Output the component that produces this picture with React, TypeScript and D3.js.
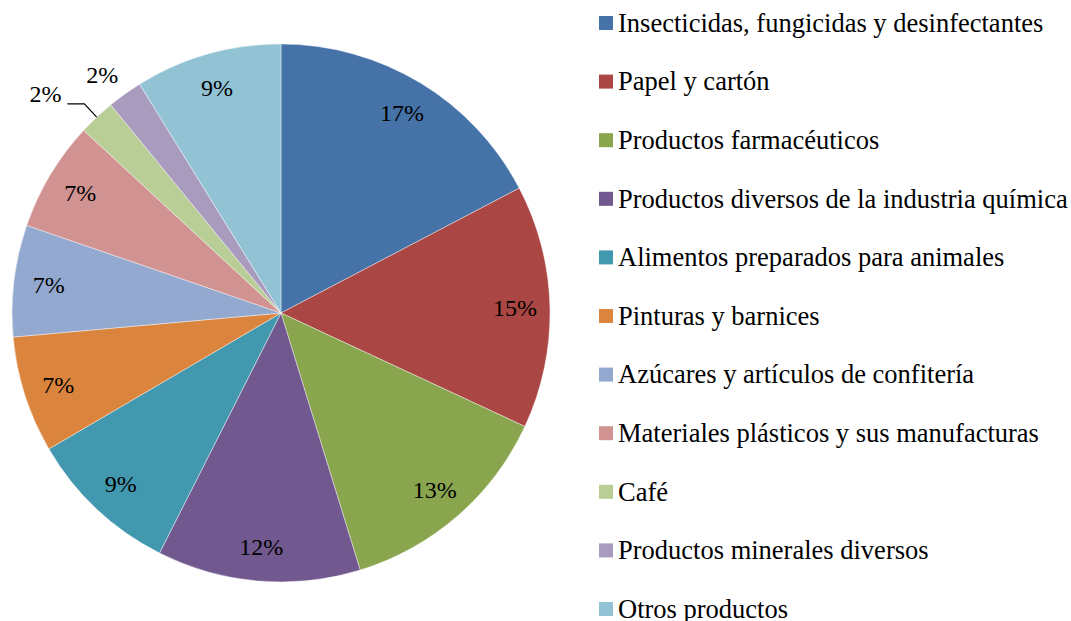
import React from "react";
import { arc, pie, PieArcDatum } from "d3";

const categories = [
  "Insecticidas, fungicidas y desinfectantes",
  "Papel y cartón",
  "Productos farmacéuticos",
  "Productos diversos de la industria química",
  "Alimentos preparados para animales",
  "Pinturas y barnices",
  "Azúcares y artículos de confitería",
  "Materiales plásticos y sus manufacturas",
  "Café",
  "Productos minerales diversos",
  "Otros productos",
];

const shares = [17.3, 14.6, 13.3, 12.2, 9.1, 7.0, 6.7, 6.6, 2.2, 2.1, 8.8];

const colors = [
  "#4572A7",
  "#AA4643",
  "#89A54E",
  "#71588F",
  "#4198AF",
  "#DB843D",
  "#93A9CF",
  "#D19392",
  "#B9CD96",
  "#A99BBD",
  "#92C3D5",
];

const width = 1071;
const height = 621;
const cx = 281;
const cy = 313;
const radius = 269;
const font = '"Liberation Serif", "DejaVu Serif", "Times New Roman", serif';

type Slice = PieArcDatum<number>;

const App = () => {
  const total = shares.reduce((a, b) => a + b, 0);
  const slices = pie<number>().sort(null).value((d) => d)(shares);
  const sliceArc = arc<Slice>().innerRadius(0).outerRadius(radius);
  const labelArc = arc<Slice>().innerRadius(234).outerRadius(234);

  const polar = (r: number, a: number): [number, number] => [
    r * Math.sin(a),
    -r * Math.cos(a),
  ];

  const textStyle = { fontFamily: font };

  const labels = slices.map((s, i) => {
    const pct = Math.round((s.data / total) * 100) + "%";
    const mid = (s.startAngle + s.endAngle) / 2;
    if (i === 8) {
      // leader line for the tiny slice
      const [x0, y0] = polar(radius, mid);
      const [x1, y1] = polar(287, mid);
      const x2 = x1 - 17;
      return (
        <g key={i}>
          <polyline
            points={`${x0},${y0} ${x1},${y1} ${x2},${y1}`}
            fill="none"
            stroke="#000"
            strokeWidth={1.2}
          />
          <text x={x2 - 6} y={y1} dy="-0.1em" textAnchor="end" fontSize={24} style={textStyle}>
            {pct}
          </text>
        </g>
      );
    }
    if (i === 9) {
      const [x, y] = polar(radius + 8, mid);
      return (
        <text key={i} x={x - 2} y={y - 4} textAnchor="end" fontSize={24} style={textStyle}>
          {pct}
        </text>
      );
    }
    const [x, y] = labelArc.centroid(s);
    return (
      <text key={i} x={x} y={y} dy="0.35em" textAnchor="middle" fontSize={24} style={textStyle}>
        {pct}
      </text>
    );
  });

  return (
    <svg
      width={width}
      height={height}
      style={{ position: "absolute", left: 0, top: 0, background: "#fff" }}
    >
      <g transform={`translate(${cx},${cy})`}>
        {slices.map((s, i) => (
          <path
            key={i}
            d={sliceArc(s) || ""}
            fill={colors[i]}
            stroke="#fff"
            strokeWidth={0.6}
            strokeOpacity={0.7}
          />
        ))}
        {labels}
      </g>
      <g transform="translate(599,23)">
        {categories.map((c, i) => (
          <g key={c} transform={`translate(0,${i * 58.6})`}>
            <rect x={0} y={-7} width={14} height={14} fill={colors[i]} />
            <text x={19} y={0} dy="0.33em" fontSize={26.5} fill="#000" style={textStyle}>
              {c}
            </text>
          </g>
        ))}
      </g>
    </svg>
  );
};

export default App;
